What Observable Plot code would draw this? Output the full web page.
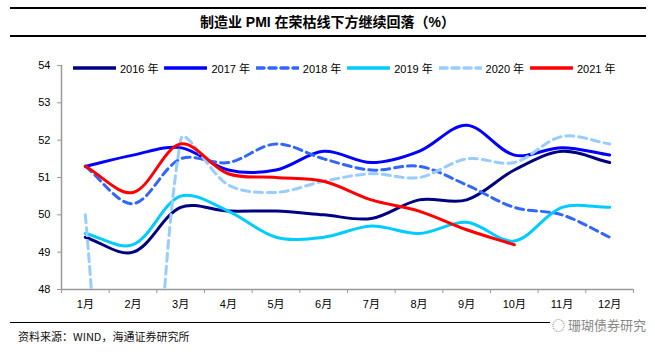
<!DOCTYPE html>
<html>
<head>
<meta charset="utf-8">
<script src="https://cdn.jsdelivr.net/npm/d3@7"></script>
<script src="https://cdn.jsdelivr.net/npm/@observablehq/plot@0.6"></script>
<style>
  html, body { margin: 0; padding: 0; background: #fff; }
  #root { position: relative; width: 655px; height: 352px; overflow: hidden; font-family: "Liberation Sans", "Noto Sans CJK SC", sans-serif; }
  .hr { position: absolute; left: 10px; width: 636px; height: 0; border-top: 2px solid #000; }
  #title { position: absolute; top: 11px; left: 0; width: 655px; text-align: center; font-size: 14px; font-weight: bold; font-family: "Liberation Sans", "Noto Sans CJK SC", sans-serif; }
  #chart { position: absolute; top: 40px; left: 0; }
  #legend { position: absolute; top: 60px; left: 0; width: 655px; height: 16px; font-size: 11px; }
  .li { position: absolute; top: 0; height: 16px; display: flex; align-items: center; }
  .li span { margin-left: 4px; }
  #source { position: absolute; top: 328px; left: 18px; font-size: 11px; font-family: "Noto Sans CJK SC", sans-serif; color: #111; }
  #wm { position: absolute; top: 315px; left: 550px; font-size: 13px; color: #888; font-family: "Noto Sans CJK SC", sans-serif; background: #fff; padding: 0 2px; }
</style>
</head>
<body>
<div id="root">
  <div class="hr" style="top:7px"></div>
  <div id="title">制造业 PMI 在荣枯线下方继续回落（%）</div>
  <div class="hr" style="top:35px"></div>
  <div id="chart"></div>
  <div id="legend"></div>
  <div class="hr" style="top:322px;border-top-width:1px"></div>
  <div id="wm">◌ 珊瑚债券研究</div>
  <div id="source">资料来源：WIND，海通证券研究所</div>
</div>
<script>
const months = [1,2,3,4,5,6,7,8,9,10,11,12];
const monthLabels = ["1月","2月","3月","4月","5月","6月","7月","8月","9月","10月","11月","12月"];
const yTicks = [48,49,50,51,52,53,54];
const seriesNames = ["2016年","2017年","2018年","2019年","2020年","2021年"];
const v2016 = [49.4,49.0,50.2,50.1,50.1,50.0,49.9,50.4,50.4,51.2,51.7,51.4];
const v2017 = [51.3,51.6,51.8,51.2,51.2,51.7,51.4,51.7,52.4,51.6,51.8,51.6];
const v2018 = [51.3,50.3,51.5,51.4,51.9,51.5,51.2,51.3,50.8,50.2,50.0,49.4];
const v2019 = [49.5,49.2,50.5,50.1,49.4,49.4,49.7,49.5,49.8,49.3,50.2,50.2];
const v2020 = [50.0,35.7,52.0,50.8,50.6,50.9,51.1,51.0,51.5,51.4,52.1,51.9];
const v2021 = [51.3,50.6,51.9,51.1,51.0,50.9,50.4,50.1,49.6,49.2];
const colors = ["#000080","#0000ff","#3366ff","#00ccff","#99ccff","#ff0000"];
const dashes = [null,null,"8,5",null,"8,5",null];
const values = [v2016,v2017,v2018,v2019,v2020,v2021];

// Spreadsheet-style smoothing: chord-length weighted Catmull-Rom Bezier
function SmoothCurve(context) { this._context = context; }
SmoothCurve.prototype = {
  areaStart() { this._line = 0; },
  areaEnd() { this._line = NaN; },
  lineStart() { this._pts = []; },
  point(x, y) { this._pts.push([+x, +y]); },
  lineEnd() {
    const p = this._pts, n = p.length, c = this._context;
    if (!n) return;
    c.moveTo(p[0][0], p[0][1]);
    if (n === 1) return;
    const dist = (a, b) => Math.hypot(b[0] - a[0], b[1] - a[1]);
    const d = [];
    for (let i = 0; i < n - 1; i++) d.push(dist(p[i], p[i + 1]));
    for (let i = 0; i < n - 1; i++) {
      const prev = i > 0 ? p[i - 1] : p[i];
      const dPrev = i > 0 ? d[i - 1] : 0;
      const next2 = i < n - 2 ? p[i + 2] : p[i + 1];
      const dNext = i < n - 2 ? d[i + 1] : 0;
      const f1 = d[i] / (3 * (dPrev + d[i]) || 1);
      const f2 = d[i] / (3 * (d[i] + dNext) || 1);
      const c1 = [p[i][0] + (p[i + 1][0] - prev[0]) * f1, p[i][1] + (p[i + 1][1] - prev[1]) * f1];
      const c2 = [p[i + 1][0] - (next2[0] - p[i][0]) * f2, p[i + 1][1] - (next2[1] - p[i][1]) * f2];
      c.bezierCurveTo(c1[0], c1[1], c2[0], c2[1], p[i + 1][0], p[i + 1][1]);
    }
  }
};
const smooth = ctx => new SmoothCurve(ctx);

const boundaries = months.map(m => m - 0.5).concat([months[months.length-1] + 0.5]);
const xDomain = [boundaries[0], boundaries[boundaries.length-1]];
const yDomain = [yTicks[0], yTicks[yTicks.length-1]];

const lineMarks = values.map((vals, i) => {
  const rows = vals.map((v, j) => ({month: months[j], value: v, series: seriesNames[i]}));
  return Plot.line(rows, {
    x: "month", y: "value", stroke: colors[i], strokeWidth: 3,
    strokeDasharray: dashes[i] || undefined,
    curve: smooth, clip: true
  });
});

const chart = Plot.plot({
  width: 655, height: 275,
  marginLeft: 61, marginRight: 22, marginTop: 25, marginBottom: 26,
  style: {fontFamily: "Liberation Sans, Noto Sans CJK SC, sans-serif", fontSize: "11px", color: "#000", background: "#fff"},
  x: {domain: xDomain, label: null},
  y: {domain: yDomain, label: null},
  marks: [
    Plot.ruleX([xDomain[0]], {stroke: "#999", strokeWidth: 1.5}),
    Plot.ruleY([yDomain[0]], {stroke: "#999", strokeWidth: 1.5}),
    Plot.axisY({ticks: yTicks, tickSize: 4, tickPadding: 7, stroke: "#999", fill: "#000", label: null, tickFormat: d => String(d)}),
    Plot.axisX({ticks: boundaries, tickSize: 4, stroke: "#999", label: null, tickFormat: () => ""}),
    Plot.axisX({ticks: months, tickSize: 0, tickPadding: 11, fill: "#000", label: null, tickFormat: d => monthLabels[d-1]}),
    ...lineMarks
  ]
});
document.getElementById("chart").appendChild(chart);

const legend = document.getElementById("legend");
seriesNames.forEach((name, i) => {
  const d = document.createElement("div");
  d.className = "li";
  d.style.left = (73 + i * 91.4) + "px";
  d.innerHTML = `<svg width="43" height="6"><line x1="1" x2="42" y1="3" y2="3" stroke="${colors[i]}" stroke-width="3.5" stroke-linecap="round" ${dashes[i] ? `stroke-dasharray="7,5"` : ""}/></svg><span>${name.replace("年"," 年")}</span>`;
  legend.appendChild(d);
});
</script>
</body>
</html>
